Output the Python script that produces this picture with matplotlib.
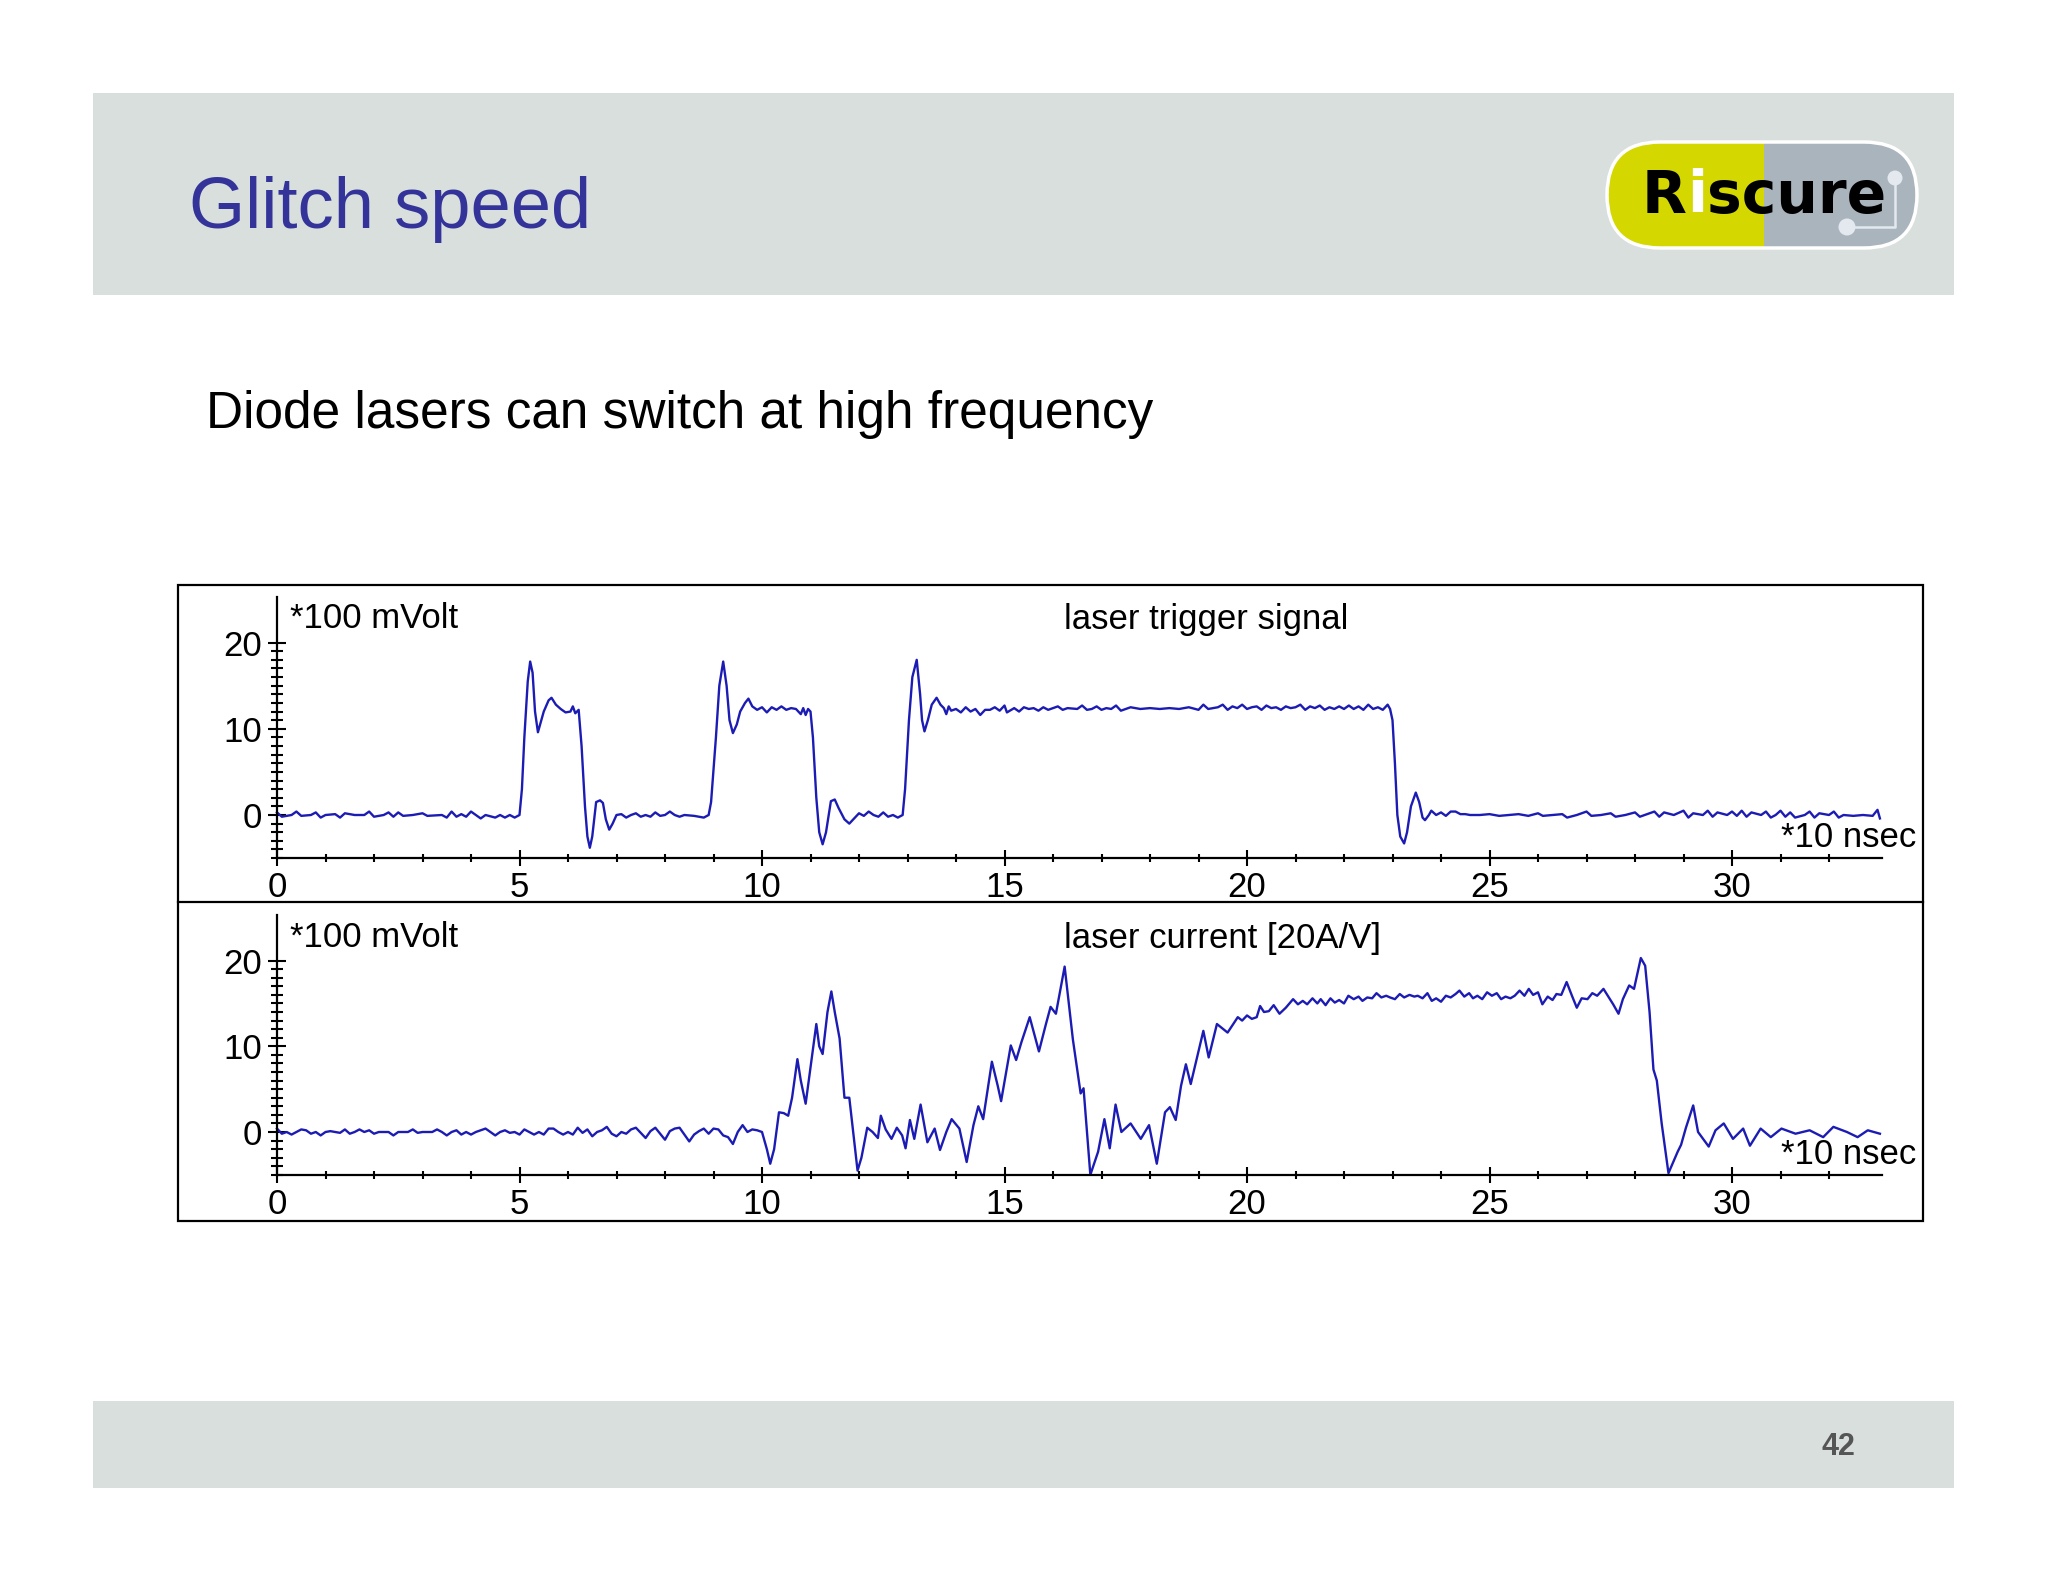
import matplotlib
matplotlib.use("Agg")
import matplotlib.pyplot as plt
from matplotlib.patches import Rectangle, FancyBboxPatch, Circle
from matplotlib.ticker import FixedLocator

plt.rcParams['font.family'] = ['Liberation Sans', 'DejaVu Sans']

W, H = 2048, 1582  # output size in px, 1 data unit = 1 px on the page layer

# --- laser trigger signal (*100 mV vs *10 ns) ---
trigger_t = [0.0, 0.1, 0.3, 0.4, 0.5, 0.7, 0.8, 0.9, 1.0, 1.2, 1.3, 1.4, 1.6, 1.8, 1.9, 2.0,
             2.2, 2.3, 2.4, 2.5, 2.6, 2.8, 3.0, 3.1, 3.4, 3.5, 3.6, 3.7, 3.8, 3.9, 4.0, 4.1,
             4.2, 4.3, 4.5, 4.6, 4.7, 4.8, 4.9, 5.0, 5.05, 5.1, 5.17, 5.22, 5.27, 5.32, 5.38,
             5.45, 5.5, 5.6, 5.66, 5.75, 5.85, 5.95, 6.05, 6.1, 6.15, 6.22, 6.28, 6.35, 6.4,
             6.45, 6.5, 6.58, 6.66, 6.72, 6.78, 6.85, 6.92, 7.0, 7.1, 7.2, 7.3, 7.4, 7.5, 7.6,
             7.7, 7.8, 7.9, 8.0, 8.1, 8.2, 8.3, 8.4, 8.6, 8.8, 8.9, 8.95, 9.05, 9.12, 9.2,
             9.27, 9.33, 9.4, 9.48, 9.55, 9.65, 9.72, 9.8, 9.9, 10.0, 10.1, 10.2, 10.3, 10.4,
             10.5, 10.6, 10.7, 10.8, 10.85, 10.9, 10.95, 11.0, 11.05, 11.12, 11.18, 11.25,
             11.32, 11.42, 11.5, 11.58, 11.7, 11.8, 11.9, 12.0, 12.1, 12.2, 12.3, 12.4, 12.5,
             12.6, 12.7, 12.8, 12.9, 12.95, 13.03, 13.1, 13.19, 13.26, 13.3, 13.35, 13.42,
             13.5, 13.6, 13.68, 13.75, 13.8, 13.85, 13.9, 14.0, 14.1, 14.2, 14.3, 14.4, 14.5,
             14.6, 14.7, 14.8, 14.9, 15.0, 15.05, 15.2, 15.3, 15.4, 15.5, 15.6, 15.7, 15.8,
             15.9, 16.0, 16.1, 16.2, 16.3, 16.5, 16.6, 16.7, 16.8, 16.9, 17.0, 17.1, 17.2,
             17.3, 17.4, 17.5, 17.6, 17.8, 18.0, 18.2, 18.4, 18.6, 18.8, 19.0, 19.1, 19.2,
             19.4, 19.5, 19.6, 19.7, 19.8, 19.9, 20.0, 20.1, 20.2, 20.3, 20.4, 20.5, 20.6,
             20.7, 20.8, 20.9, 21.0, 21.1, 21.2, 21.3, 21.4, 21.5, 21.6, 21.7, 21.8, 21.9,
             22.0, 22.1, 22.2, 22.3, 22.4, 22.5, 22.6, 22.7, 22.8, 22.9, 22.95, 23.0, 23.05,
             23.1, 23.16, 23.24, 23.3, 23.38, 23.48, 23.55, 23.62, 23.67, 23.75, 23.8, 23.9,
             24.0, 24.1, 24.2, 24.3, 24.4, 24.5, 24.6, 24.8, 25.0, 25.2, 25.4, 25.6, 25.8,
             26.0, 26.1, 26.3, 26.5, 26.6, 26.8, 27.0, 27.1, 27.3, 27.5, 27.6, 27.8, 28.0,
             28.1, 28.2, 28.4, 28.5, 28.6, 28.8, 29.0, 29.1, 29.2, 29.4, 29.5, 29.6, 29.7,
             29.9, 30.0, 30.1, 30.2, 30.3, 30.4, 30.6, 30.7, 30.8, 30.9, 31.0, 31.1, 31.2,
             31.3, 31.5, 31.6, 31.7, 31.8, 32.0, 32.1, 32.2, 32.3, 32.5, 32.7, 32.9, 33.0,
             33.05]
trigger_v = [0.3, -0.2, 0.0, 0.4, -0.1, 0.0, 0.3, -0.3, 0.0, 0.1, -0.3, 0.2, 0.0, 0.0, 0.4, -0.2,
             0.0, 0.3, -0.2, 0.3, -0.1, 0.0, 0.2, -0.1, 0.0, -0.3, 0.4, -0.2, 0.1, -0.2, 0.4, 0.0,
             -0.4, 0.0, -0.3, 0.0, -0.3, 0.0, -0.3, 0.0, 3.0, 9.0, 15.5, 17.8, 16.5, 12.0, 9.6,
             11.0, 12.0, 13.3, 13.6, 12.8, 12.3, 11.9, 12.0, 12.6, 11.8, 12.2, 8.0, 1.0, -2.5,
             -3.8, -2.5, 1.5, 1.7, 1.4, -0.5, -1.7, -1.0, 0.0, 0.1, -0.3, 0.0, 0.2, -0.2, 0.0,
             -0.2, 0.3, -0.1, 0.0, 0.4, 0.0, -0.2, 0.0, -0.1, -0.3, 0.0, 1.5, 9.0, 15.0, 17.8,
             15.0, 11.0, 9.5, 10.5, 12.0, 13.0, 13.5, 12.6, 12.2, 12.5, 11.9, 12.5, 12.2, 12.6,
             12.2, 12.4, 12.3, 11.7, 12.4, 11.6, 12.3, 12.0, 9.0, 2.0, -2.0, -3.4,
             -2.0, 1.6, 1.8, 0.8, -0.5, -1.0, -0.4, 0.2, -0.1, 0.4, 0.0, -0.2, 0.3,
             -0.2, 0.0, -0.3, 0.0, 3.0, 11.0, 16.0, 18.0, 14.0, 11.0, 9.7, 11.0,
             12.8, 13.6, 12.8, 12.4, 11.7, 12.6, 12.1, 12.3, 11.9, 12.5, 12.0, 12.3, 11.6,
             12.2, 12.2, 12.5, 12.1, 12.7, 11.9, 12.4, 12.0, 12.5, 12.3, 12.4, 12.1, 12.5,
             12.2, 12.4, 12.6, 12.2, 12.4, 12.3, 12.7, 12.2, 12.3, 12.6, 12.2, 12.4, 12.3,
             12.7, 12.1, 12.3, 12.5, 12.3, 12.4, 12.3, 12.4, 12.3, 12.5, 12.2, 12.8, 12.3,
             12.5, 12.8, 12.2, 12.6, 12.4, 12.8, 12.3, 12.5, 12.6, 12.2, 12.7, 12.4, 12.5,
             12.2, 12.6, 12.4, 12.5, 12.8, 12.2, 12.6, 12.4, 12.7, 12.2, 12.5, 12.3, 12.6,
             12.3, 12.7, 12.3, 12.6, 12.2, 12.8, 12.3, 12.5, 12.2, 12.8, 12.3, 11.0, 6.0,
             0.0, -2.5, -3.3, -2.0, 1.0, 2.6, 1.5, -0.3, -0.6, 0.0, 0.5, 0.0,
             0.3, -0.1, 0.4, 0.4, 0.1, 0.1, 0.0, 0.0, 0.1, -0.1, 0.0, 0.1, -0.1,
             0.2, -0.1, 0.0, 0.1, -0.3, 0.0, 0.4, -0.1, 0.0, 0.2, -0.2, 0.0, 0.3,
             -0.2, 0.0, 0.4, -0.2, 0.3, 0.0, 0.5, -0.3, 0.2, 0.0, 0.5, -0.2, 0.3,
             0.0, 0.4, -0.1, 0.5, -0.2, 0.3, 0.0, 0.4, -0.3, 0.0, 0.5, -0.2, 0.3,
             -0.3, 0.0, 0.4, -0.3, 0.2, 0.0, 0.4, -0.3, 0.0, -0.1, 0.0, -0.1, 0.6,
             -0.4]

# --- laser current [20A/V] ---
current_t = [0.0, 0.1, 0.2, 0.3, 0.4, 0.5, 0.6, 0.7, 0.8, 0.9, 1.0, 1.1, 1.3, 1.4, 1.5, 1.6,
             1.7, 1.8, 1.9, 2.0, 2.1, 2.3, 2.4, 2.5, 2.7, 2.8, 2.9, 3.0, 3.2, 3.3, 3.4, 3.5,
             3.6, 3.7, 3.8, 3.9, 4.0, 4.1, 4.3, 4.4, 4.5, 4.6, 4.7, 4.8, 4.9, 5.0, 5.1, 5.2,
             5.3, 5.4, 5.5, 5.6, 5.7, 5.8, 5.9, 6.0, 6.1, 6.2, 6.3, 6.4, 6.5, 6.6, 6.7, 6.8,
             6.9, 7.0, 7.1, 7.2, 7.3, 7.4, 7.5, 7.6, 7.7, 7.8, 7.9, 8.0, 8.1, 8.2, 8.3, 8.4,
             8.5, 8.6, 8.7, 8.8, 8.9, 9.0, 9.1, 9.2, 9.3, 9.4, 9.5, 9.6, 9.7, 9.8, 9.9, 10.0,
             10.1, 10.17, 10.25, 10.35, 10.45, 10.54, 10.62, 10.73, 10.8, 10.9, 11.0, 11.12,
             11.18, 11.25, 11.35, 11.43, 11.5, 11.6, 11.7, 11.8, 11.88, 11.97, 12.05, 12.17,
             12.28, 12.39, 12.45, 12.55, 12.67, 12.78, 12.89, 12.96, 13.05, 13.14, 13.27,
             13.41, 13.56, 13.67, 13.8, 13.91, 14.07, 14.22, 14.36, 14.46, 14.56, 14.74,
             14.86, 14.93, 15.13, 15.24, 15.35, 15.52, 15.71, 15.85, 15.95, 16.06, 16.24,
             16.41, 16.57, 16.63, 16.77, 16.93, 17.06, 17.17, 17.29, 17.41, 17.6, 17.81,
             17.98, 18.14, 18.31, 18.41, 18.53, 18.64, 18.74, 18.84, 19.1, 19.21, 19.38,
             19.6, 19.81, 19.9, 20.0, 20.1, 20.2, 20.27, 20.35, 20.45, 20.55, 20.67, 20.8,
             20.95, 21.05, 21.15, 21.24, 21.35, 21.45, 21.52, 21.62, 21.72, 21.81, 21.9,
             22.0, 22.09, 22.2, 22.3, 22.38, 22.48, 22.58, 22.67, 22.77, 22.87, 22.95,
             23.05, 23.15, 23.24, 23.35, 23.45, 23.52, 23.62, 23.72, 23.81, 23.9, 24.0,
             24.1, 24.2, 24.3, 24.38, 24.48, 24.58, 24.66, 24.75, 24.85, 24.95, 25.05,
             25.15, 25.24, 25.33, 25.43, 25.52, 25.62, 25.72, 25.81, 25.9, 26.0, 26.09,
             26.2, 26.3, 26.38, 26.48, 26.59, 26.7, 26.8, 26.9, 27.02, 27.12, 27.22, 27.35,
             27.45, 27.55, 27.66, 27.75, 27.88, 27.98, 28.05, 28.12, 28.21, 28.3, 28.38,
             28.45, 28.55, 28.69, 28.88, 28.95, 29.05, 29.2, 29.3, 29.52, 29.66, 29.83,
             30.02, 30.23, 30.37, 30.59, 30.8, 31.02, 31.31, 31.6, 31.88, 32.09, 32.37,
             32.59, 32.8, 33.05]
current_v = [0.4, -0.2, 0.0, -0.3, 0.0, 0.3, 0.2, -0.2, 0.0, -0.4, 0.0, 0.1, -0.1, 0.3, -0.2, 0.0,
             0.3, 0.0, 0.2, -0.2, 0.0, 0.0, -0.4, 0.0, 0.0, 0.3, -0.1, 0.0, 0.0, 0.3, 0.0, -0.4,
             0.0, 0.2, -0.3, 0.0, -0.3, 0.0, 0.4, 0.0, -0.4, 0.0, 0.2, -0.1, 0.0, -0.3, 0.3, 0.0,
             -0.3, 0.0, -0.3, 0.4, 0.4, 0.0, -0.3, 0.0, -0.3, 0.5, -0.1, 0.3, -0.5, 0.0, 0.2, 0.6,
             -0.2, -0.5, 0.0, -0.2, 0.3, 0.5, -0.1, -0.7, 0.1, 0.5, -0.2, -0.9, 0.1, 0.4, 0.5, -0.3,
             -1.1, -0.3, 0.1, 0.4, -0.2, 0.4, 0.3, -0.4, -0.6, -1.4, 0.0, 0.8, 0.0, 0.3, 0.2, 0.0,
             -2.0, -3.7, -2.0, 2.3, 2.2, 1.9, 4.0, 8.5, 6.0, 3.3, 7.5, 12.6,
             10.0, 9.1, 14.0, 16.4, 14.0, 10.9, 4.0, 4.0, 0.0, -4.5, -3.0, 0.5,
             0.0, -0.7, 1.9, 0.3, -0.8, 0.5, -0.4, -1.9, 1.4, -0.8, 3.2,
             -1.2, 0.4, -2.1, 0.0, 1.5, 0.4, -3.5, 0.8, 3.0, 1.5, 8.2,
             5.4, 3.6, 10.1, 8.4, 10.5, 13.4, 9.4, 12.5, 14.6, 13.8, 19.3,
             10.8, 4.5, 5.1, -5.0, -2.3, 1.5, -1.9, 3.2, 0.0, 1.0, -0.8,
             0.8, -3.7, 2.3, 2.9, 1.4, 5.4, 7.9, 5.6, 11.8, 8.7, 12.6,
             11.6, 13.4, 13.0, 13.6, 13.2, 13.4, 14.7, 14.0, 14.1, 14.8, 13.8, 14.5,
             15.5, 14.9, 15.3, 14.9, 15.6, 15.0, 15.5, 14.8, 15.6, 15.1, 15.4,
             15.0, 15.9, 15.5, 15.8, 15.3, 15.7, 15.6, 16.2, 15.7, 15.9, 15.7,
             15.5, 16.1, 15.7, 16.0, 15.8, 15.9, 15.6, 16.2, 15.3, 15.6, 15.2,
             15.9, 15.7, 16.1, 16.5, 15.8, 16.2, 15.6, 15.9, 15.5, 16.3, 15.9,
             16.2, 15.5, 15.8, 15.6, 15.9, 16.5, 15.9, 16.7, 16.0, 16.3, 14.9,
             15.8, 15.4, 16.1, 16.0, 17.5, 15.9, 14.5, 15.6, 15.5, 16.2, 15.9, 16.7,
             15.8, 14.9, 13.8, 15.5, 17.1, 16.7, 18.5, 20.3, 19.4, 14.0, 7.3,
             6.0, 1.0, -4.8, -2.3, -1.5, 0.5, 3.1, 0.0, -1.7, 0.2, 1.0,
             -0.8, 0.4, -1.6, 0.4, -0.6, 0.4, -0.2, 0.2, -0.6, 0.6, 0.0,
             -0.6, 0.2, -0.2]

x_major = [0, 5, 10, 15, 20, 25, 30]
x_minor = list(range(0, 33))
y_major = [0, 10, 20]
y_minor = list(range(-5, 21))

TRACE = '#1c1cb4'
BAND = '#d8dfdc'

fig = plt.figure(figsize=(W / 100, H / 100), dpi=100)

# page layer in pixel coordinates (y downwards)
bg = fig.add_axes([0, 0, 1, 1])
bg.set_xlim(0, W)
bg.set_ylim(H, 0)
bg.axis('off')

bg.add_patch(Rectangle((93, 93), 1861, 202, color=BAND, lw=0))
bg.add_patch(Rectangle((93, 1401), 1861, 87, color=BAND, lw=0))

bg.text(189, 228, 'Glitch speed', fontsize=52, color='#333399', va='baseline')
bg.text(206, 428, 'Diode lasers can switch at high frequency', fontsize=37,
        color='black', va='baseline')
bg.text(1838, 1447, '42', fontsize=22, fontweight='bold', color='#555555',
        ha='center', va='center')

# scope screenshot frame
bg.add_patch(Rectangle((178, 585), 1745, 636, fill=False, ec='black', lw=1.6))
bg.plot([178, 1923], [902, 902], color='black', lw=1.6)

# logo pill
pill = dict(boxstyle='round,pad=0,rounding_size=53')
bg.add_patch(FancyBboxPatch((1607, 142), 310, 106, fc='#d4d700', ec='none', **pill))
gray = FancyBboxPatch((1607, 142), 310, 106, fc='#aab4bc', ec='none', **pill)
bg.add_patch(gray)
gray.set_clip_path(Rectangle((1764, 120), 200, 150, transform=bg.transData))
bg.add_patch(FancyBboxPatch((1607, 142), 310, 106, fill=False, ec='white', lw=2.5, **pill))
bg.plot([1895, 1895, 1847], [178, 227, 227], color='#e4e9f0', lw=1.8)
bg.add_patch(Circle((1895, 178), 7.5, fc='#e4e9f0', ec='none'))
bg.add_patch(Circle((1847, 227), 8.5, fc='#e4e9f0', ec='none'))

renderer = fig.canvas.get_renderer()
x = 1642
for piece, col in [('R', 'black'), ('i', 'white'), ('scure', 'black')]:
    t = bg.text(x, 213, piece, fontsize=42, fontweight='heavy', color=col,
                family='DejaVu Sans', va='baseline')
    x += t.get_window_extent(renderer).width


def panel(y0_px, unit_px, t, v, title, title_base):
    left_px, right_px = 277, 277 + 33.1 * 48.5
    bottom_px = y0_px + 5 * unit_px
    top_px = y0_px - 25.3 * unit_px
    ax = fig.add_axes([left_px / W, 1 - bottom_px / H,
                       (right_px - left_px) / W, (bottom_px - top_px) / H])
    ax.patch.set_alpha(0)
    ax.set_xlim(0, 33.1)
    ax.set_ylim(-5, 25.3)
    for s in ['top', 'right']:
        ax.spines[s].set_visible(False)
    for s in ['left', 'bottom']:
        ax.spines[s].set_linewidth(1.6)
    ax.xaxis.set_major_locator(FixedLocator(x_major))
    ax.xaxis.set_minor_locator(FixedLocator(x_minor))
    ax.yaxis.set_major_locator(FixedLocator(y_major))
    ax.yaxis.set_minor_locator(FixedLocator(y_minor))
    ax.tick_params(which='both', direction='inout', width=1.5, labelsize=25)
    ax.tick_params(axis='x', which='major', length=11, pad=4)
    ax.tick_params(axis='x', which='minor', length=6)
    ax.tick_params(axis='y', which='major', length=13, pad=4)
    ax.tick_params(axis='y', which='minor', length=9)
    ax.plot(t, v, color=TRACE, lw=1.7, clip_on=False)

    bg.text(290, title_base, '*100 mVolt', fontsize=25, va='baseline')
    bg.text(1064, title_base + 1, title, fontsize=25, va='baseline')
    bg.text(1916, y0_px + 32, '*10 nsec', fontsize=25, ha='right', va='baseline')
    return ax


panel(815, 8.62, trigger_t, trigger_v, 'laser trigger signal', 628)
panel(1132, 8.57, current_t, current_v, 'laser current [20A/V]', 947)

fig.savefig('out.png', dpi=100)
